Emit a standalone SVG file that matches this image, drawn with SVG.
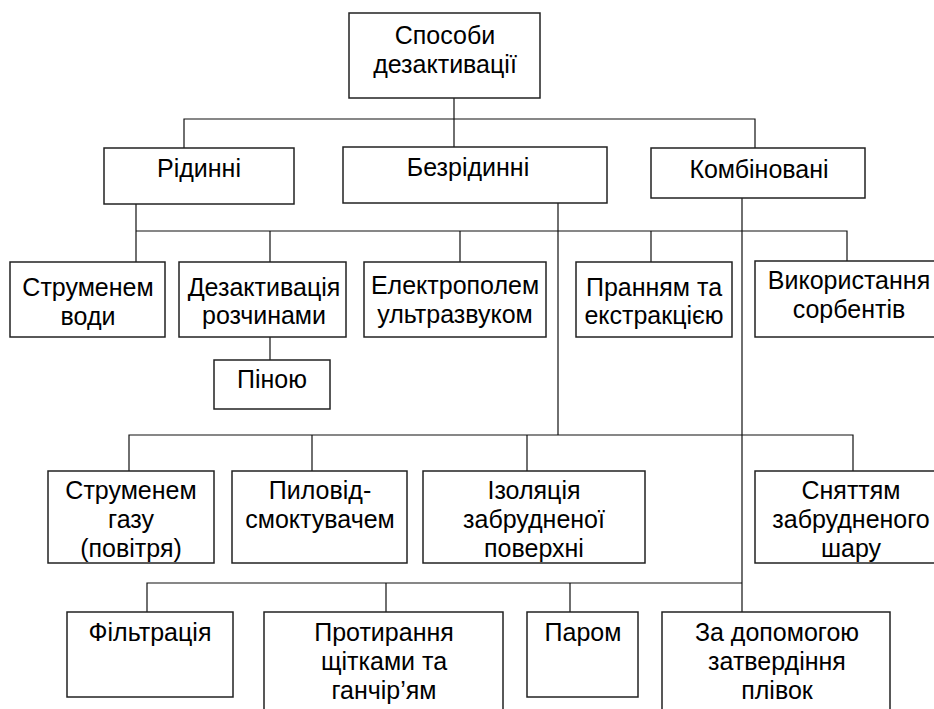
<svg xmlns="http://www.w3.org/2000/svg" width="934" height="709" viewBox="0 0 934 709">
<style>
.b{fill:#fff;stroke:#222;stroke-width:1.5}
.t{font-family:"Liberation Sans",Arial,sans-serif;font-size:25px;fill:#000;text-anchor:middle}
.c{fill:none;stroke:#111;stroke-width:1.2}
</style>
<rect width="934" height="709" fill="#fff"/>
<g id="connectors" class="c">
<path d="M454,98 V147 M184,148 V119 H755 V148"/>
<path d="M136,204 V231 H847 V261 M136,231 V262 M270,231 V262 M460,231 V262 M651,231 V262"/>
<path d="M270,337 V360"/>
<path d="M558,203 V435 M129,471 V435 H853 V471 M312,435 V471 M527,435 V471"/>
<path d="M742,198 V612 M147,612 V583 H742 M386,583 V612 M570,583 V612"/>
</g>
<g id="root"><rect class="b" x="349" y="13" width="191" height="85"/><text class="t" x="445" y="44">Способи</text><text class="t" x="445" y="73">дезактивації</text></g>
<g id="ridynni"><rect class="b" x="104" y="148" width="190" height="56"/><text class="t" x="199" y="177">Рідинні</text></g>
<g id="bezridynni"><rect class="b" x="343" y="147" width="264" height="56"/><text class="t" x="468" y="176">Безрідинні</text></g>
<g id="kombinovani"><rect class="b" x="651" y="148" width="214" height="50"/><text class="t" x="759" y="178">Комбіновані</text></g>
<g id="strumenem-vody"><rect class="b" x="10" y="262" width="155" height="75"/><text class="t" x="88" y="296">Струменем</text><text class="t" x="88" y="325">води</text></g>
<g id="dezaktyvatsiia"><rect class="b" x="179" y="262" width="167" height="75"/><text class="t" x="264" y="296">Дезактивація</text><text class="t" x="264" y="324">розчинами</text></g>
<g id="elektropolem"><rect class="b" x="364" y="262" width="182" height="75"/><text class="t" x="455" y="294">Електрополем</text><text class="t" x="455" y="323">ультразвуком</text></g>
<g id="prannyam"><rect class="b" x="576" y="262" width="156" height="75"/><text class="t" x="654" y="296">Пранням та</text><text class="t" x="654" y="324">екстракцією</text></g>
<g id="vykorystannia"><rect class="b" x="755" y="261" width="185" height="76"/><text class="t" x="849" y="289">Використання</text><text class="t" x="849" y="318">сорбентів</text></g>
<g id="pinoiu"><rect class="b" x="214" y="360" width="116" height="49"/><text class="t" x="272" y="388">Піною</text></g>
<g id="strumenem-gazu"><rect class="b" x="48" y="471" width="166" height="92"/><text class="t" x="131" y="499">Струменем</text><text class="t" x="131" y="528">газу</text><text class="t" x="131" y="557">(повітря)</text></g>
<g id="pylovid"><rect class="b" x="232" y="471" width="175" height="92"/><text class="t" x="320" y="499">Пиловід-</text><text class="t" x="320" y="528">смоктувачем</text></g>
<g id="izoliatsiia"><rect class="b" x="423" y="471" width="222" height="92"/><text class="t" x="534" y="499">Ізоляція</text><text class="t" x="534" y="528">забрудненої</text><text class="t" x="534" y="557">поверхні</text></g>
<g id="sniattiam"><rect class="b" x="755" y="471" width="185" height="92"/><text class="t" x="851" y="499">Сняттям</text><text class="t" x="851" y="528">забрудненого</text><text class="t" x="851" y="557">шару</text></g>
<g id="filtratsiia"><rect class="b" x="67" y="612" width="166" height="85"/><text class="t" x="150" y="641">Фільтрація</text></g>
<g id="protyrannia"><rect class="b" x="264" y="612" width="239" height="110"/><text class="t" x="384" y="641">Протирання</text><text class="t" x="384" y="670">щітками та</text><text class="t" x="384" y="699">ганчір’ям</text></g>
<g id="parom"><rect class="b" x="527" y="612" width="111" height="85"/><text class="t" x="583" y="641">Паром</text></g>
<g id="za-dopomogoiu"><rect class="b" x="662" y="612" width="228" height="110"/><text class="t" x="777" y="641">За допомогою</text><text class="t" x="777" y="670">затвердіння</text><text class="t" x="777" y="699">плівок</text></g>
</svg>
